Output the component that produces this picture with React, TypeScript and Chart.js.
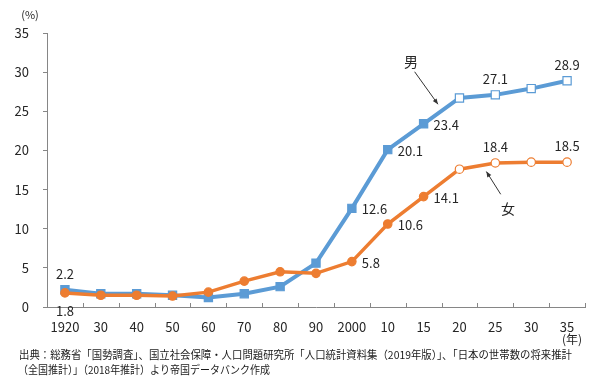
import React, { useEffect, useRef } from "react";
import { Chart, registerables } from "chart.js";

Chart.register(...registerables);

const categories = ["1920", "30", "40", "50", "60", "70", "80", "90", "2000", "10", "15", "20", "25", "30", "35"];
const maleValues = [2.2, 1.7, 1.7, 1.5, 1.2, 1.7, 2.6, 5.6, 12.6, 20.1, 23.4, 26.7, 27.1, 27.9, 28.9];
const femaleValues = [1.8, 1.5, 1.5, 1.4, 1.9, 3.3, 4.5, 4.3, 5.8, 10.6, 14.1, 17.6, 18.4, 18.5, 18.5];
const yTicks = [0, 5, 10, 15, 20, 25, 30, 35];
const projectionStart = 11; // 2020 onward: projected (hollow markers)
const sourceLines = [
  "出典：総務省「国勢調査」、国立社会保障・人口問題研究所「人口統計資料集（2019年版）」、「日本の世帯数の将来推計",
  "（全国推計）」（2018年推計）より帝国データバンク作成",
];

const BLUE = "#5B9BD5";
const ORANGE = "#ED7D31";
const FONT = "'Noto Sans CJK JP', 'Noto Sans', sans-serif";
const TEXT = "#262626";
const AXIS = "#868686";

const maleLabels: Record<number, string> = { 0: "above", 8: "right", 9: "right", 10: "right", 12: "above", 14: "above" };
const femaleLabels: Record<number, string> = { 0: "below", 8: "right", 9: "right", 10: "right", 12: "above", 14: "above" };

const overlay = {
  id: "overlay",
  afterDatasetsDraw(chart: any) {
    const ctx = chart.ctx;
    const xs = chart.scales.x;
    const ys = chart.scales.y;
    ctx.save();
    // x-axis tick marks (inward)
    ctx.strokeStyle = AXIS;
    ctx.lineWidth = 1;
    const n = categories.length;
    const step = (xs.right - xs.left) / n;
    for (let i = 1; i <= n; i++) {
      const x = Math.round(xs.left + step * i) + 0.5;
      ctx.beginPath();
      ctx.moveTo(x, ys.bottom);
      ctx.lineTo(x, ys.bottom - 4);
      ctx.stroke();
    }
    // data labels
    ctx.fillStyle = TEXT;
    ctx.font = `13px ${FONT}`;
    ctx.textBaseline = "middle";
    const drawLabels = (dsIndex: number, values: number[], map: Record<number, string>) => {
      const meta = chart.getDatasetMeta(dsIndex);
      Object.keys(map).forEach((k) => {
        const i = Number(k);
        const pt = meta.data[i];
        const txt = values[i].toFixed(1);
        const pos = map[i];
        if (pos === "above") {
          ctx.textAlign = "center";
          ctx.fillText(txt, pt.x, pt.y - 16);
        } else if (pos === "below") {
          ctx.textAlign = "center";
          ctx.fillText(txt, pt.x, pt.y + 18);
        } else {
          ctx.textAlign = "left";
          ctx.fillText(txt, pt.x + 10, pt.y + 1);
        }
      });
    };
    drawLabels(0, maleValues, maleLabels);
    drawLabels(1, femaleValues, femaleLabels);

    // annotations
    const arrow = (x1: number, y1: number, x2: number, y2: number) => {
      ctx.strokeStyle = "#333";
      ctx.fillStyle = "#333";
      ctx.lineWidth = 1;
      ctx.beginPath();
      ctx.moveTo(x1, y1);
      ctx.lineTo(x2, y2);
      ctx.stroke();
      const a = Math.atan2(y2 - y1, x2 - x1);
      const L = 6;
      ctx.beginPath();
      ctx.moveTo(x2, y2);
      ctx.lineTo(x2 - L * Math.cos(a - 0.4), y2 - L * Math.sin(a - 0.4));
      ctx.lineTo(x2 - L * Math.cos(a + 0.4), y2 - L * Math.sin(a + 0.4));
      ctx.closePath();
      ctx.fill();
    };
    arrow(xs.getPixelForValue(9.75), ys.getPixelForValue(30.05), xs.getPixelForValue(10.4), ys.getPixelForValue(25.9));
    arrow(xs.getPixelForValue(12.15), ys.getPixelForValue(14.4), xs.getPixelForValue(11.75), ys.getPixelForValue(17.3));
    ctx.fillStyle = TEXT;
    ctx.font = `14px ${FONT}`;
    ctx.textAlign = "center";
    ctx.textBaseline = "middle";
    ctx.fillText("男", xs.getPixelForValue(9.65), ys.getPixelForValue(31.3));
    ctx.fillText("女", xs.getPixelForValue(12.35), ys.getPixelForValue(12.6));

    // unit labels
    ctx.font = `11px ${FONT}`;
    ctx.fillText("(%)", 30, 15);
    ctx.font = `12px ${FONT}`;
    ctx.fillText("(年)", xs.getPixelForValue(14) + 5, 339);

    // source
    ctx.font = `11px ${FONT}`;
    ctx.textAlign = "left";
    ctx.fillStyle = "#1a1a1a";
    ctx.fillText(sourceLines[0], 19, 355, 553);
    ctx.fillText(sourceLines[1], 18, 370, 252);
    ctx.restore();
  },
};

export default function App() {
  const ref = useRef<HTMLCanvasElement>(null);
  useEffect(() => {
    document.body.style.margin = "0";
    const pointBg = (color: string) => (c: any) => (c.dataIndex >= projectionStart ? "#ffffff" : color);
    const chart = new Chart(ref.current!, {
      type: "line",
      data: {
        labels: categories,
        datasets: [
          {
            label: "男",
            data: maleValues,
            borderColor: BLUE,
            backgroundColor: BLUE,
            borderWidth: 4,
            pointStyle: "rect",
            pointRadius: 5.8,
            pointBorderWidth: 1.2,
            pointBorderColor: BLUE,
            pointBackgroundColor: pointBg(BLUE) as any,
            order: 1,
            tension: 0,
          },
          {
            label: "女",
            data: femaleValues,
            borderColor: ORANGE,
            backgroundColor: ORANGE,
            borderWidth: 3.5,
            pointStyle: "circle",
            pointRadius: 4.2,
            pointBorderWidth: 1.2,
            pointBorderColor: ORANGE,
            pointBackgroundColor: pointBg(ORANGE) as any,
            order: 0,
            tension: 0,
          },
        ],
      },
      options: {
        animation: false,
        responsive: false,
        layout: { padding: { top: 33, right: 15, left: 0, bottom: 0 } },
        plugins: { legend: { display: false }, tooltip: { enabled: false } },
        scales: {
          x: {
            offset: true,
            grid: { display: false, offset: true },
            border: { display: true, color: AXIS, width: 1 },
            ticks: { color: TEXT, font: { size: 13, family: FONT }, padding: 4, maxRotation: 0, autoSkip: false },
            afterFit: (s: any) => {
              s.height = 77;
            },
          },
          y: {
            min: 0,
            max: 35,
            afterBuildTicks: (s: any) => {
              s.ticks = yTicks.map((v) => ({ value: v }));
            },
            grid: { drawOnChartArea: false, drawTicks: true, tickLength: 4, color: AXIS },
            border: { display: true, color: AXIS, width: 1 },
            ticks: { color: TEXT, font: { size: 13, family: FONT }, padding: 14 },
            afterFit: (s: any) => {
              s.width = 47;
            },
          },
        },
      },
      plugins: [overlay],
    });
    return () => chart.destroy();
  }, []);
  return <canvas ref={ref} width={600} height={384} style={{ display: "block" }} />;
}
